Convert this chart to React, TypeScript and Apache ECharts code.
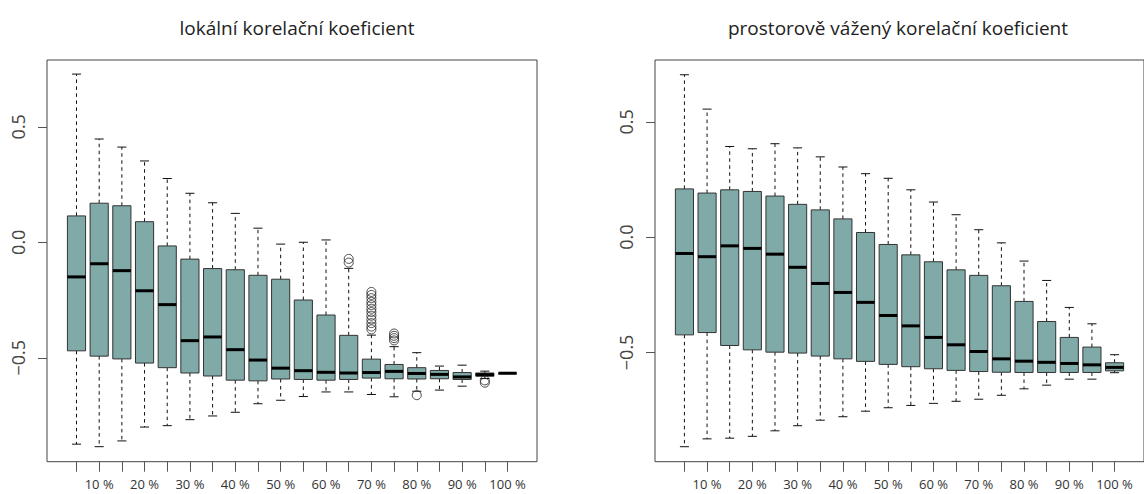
import React, { useEffect, useRef } from "react";
import * as echarts from "echarts";

// ---- data ----
const categories = ["5 %", "10 %", "15 %", "20 %", "25 %", "30 %", "35 %", "40 %", "45 %", "50 %",
  "55 %", "60 %", "65 %", "70 %", "75 %", "80 %", "85 %", "90 %", "95 %", "100 %"];
const labelledPositions = [2, 4, 6, 8, 10, 12, 14, 16, 18, 20];
const yTicks = [-0.5, 0, 0.5];

const leftTitle = "lokální korelační koeficient";
const rightTitle = "prostorově vážený korelační koeficient";

// left panel (lokální)
const leftLow = [-0.874, -0.885, -0.860, -0.800, -0.794, -0.768, -0.752, -0.736, -0.699, -0.684,
  -0.668, -0.648, -0.648, -0.659, -0.669, -0.645, -0.640, -0.623, -0.590, -0.567];
const leftQ1 = [-0.470, -0.493, -0.505, -0.523, -0.543, -0.566, -0.579, -0.597, -0.600, -0.592,
  -0.594, -0.597, -0.594, -0.588, -0.591, -0.592, -0.591, -0.594, -0.580, -0.567];
const leftMedian = [-0.150, -0.093, -0.123, -0.210, -0.270, -0.426, -0.410, -0.465, -0.510, -0.545,
  -0.556, -0.563, -0.566, -0.564, -0.559, -0.568, -0.572, -0.583, -0.573, -0.567];
const leftQ3 = [0.114, 0.169, 0.158, 0.089, -0.016, -0.073, -0.114, -0.119, -0.143, -0.160,
  -0.250, -0.315, -0.403, -0.506, -0.529, -0.543, -0.555, -0.564, -0.566, -0.567];
const leftHigh = [0.728, 0.447, 0.412, 0.352, 0.276, 0.212, 0.171, 0.125, 0.061, -0.008,
  0.000, 0.010, -0.113, -0.402, -0.452, -0.478, -0.536, -0.532, -0.558, -0.567];
const leftOutliers: [number, number][] = [
  [13, -0.072], [13, -0.088],
  [14, -0.215], [14, -0.228], [14, -0.242], [14, -0.258], [14, -0.272], [14, -0.288],
  [14, -0.302], [14, -0.318], [14, -0.334], [14, -0.350], [14, -0.365], [14, -0.377],
  [15, -0.395], [15, -0.405], [15, -0.415], [15, -0.425],
  [16, -0.662],
  [19, -0.598], [19, -0.608],
];

// right panel (prostorově vážený)
const rightLow = [-0.909, -0.875, -0.872, -0.864, -0.840, -0.818, -0.794, -0.779, -0.755, -0.740,
  -0.730, -0.721, -0.712, -0.703, -0.686, -0.658, -0.642, -0.616, -0.616, -0.588];
const rightQ1 = [-0.424, -0.414, -0.470, -0.489, -0.499, -0.503, -0.516, -0.528, -0.539, -0.552,
  -0.562, -0.571, -0.578, -0.583, -0.586, -0.587, -0.587, -0.587, -0.587, -0.580];
const rightMedian = [-0.071, -0.085, -0.038, -0.049, -0.074, -0.131, -0.201, -0.240, -0.283, -0.340,
  -0.385, -0.435, -0.467, -0.496, -0.528, -0.538, -0.543, -0.548, -0.554, -0.565];
const rightQ3 = [0.209, 0.191, 0.205, 0.198, 0.178, 0.142, 0.118, 0.079, 0.020, -0.032,
  -0.077, -0.107, -0.142, -0.166, -0.211, -0.279, -0.366, -0.435, -0.477, -0.545];
const rightHigh = [0.704, 0.555, 0.393, 0.383, 0.405, 0.387, 0.348, 0.304, 0.275, 0.255,
  0.205, 0.152, 0.097, 0.032, -0.025, -0.104, -0.188, -0.305, -0.376, -0.510];

const BOX_FILL = "#7faaa8";
const FONT = "'Open Sans', 'DejaVu Sans', sans-serif";

function rows(lo: number[], q1: number[], med: number[], q3: number[], hi: number[]) {
  return lo.map((_, i) => [i + 1, lo[i], q1[i], med[i], q3[i], hi[i]]);
}

function renderBox(_params: any, api: any) {
  const x = api.value(0);
  const pLo = api.coord([x, api.value(1)]);
  const yQ1 = api.coord([x, api.value(2)])[1];
  const yMed = api.coord([x, api.value(3)])[1];
  const yQ3 = api.coord([x, api.value(4)])[1];
  const yHi = api.coord([x, api.value(5)])[1];
  const cx = pLo[0];
  const yLo = pLo[1];
  const hw = api.size([0.4, 0])[0];
  const cw = api.size([0.2, 0])[0];
  const dash = { stroke: "#111", lineWidth: 1, lineDash: [3.5, 3.5] };
  const solid = { stroke: "#111", lineWidth: 1 };
  return {
    type: "group",
    children: [
      { type: "line", shape: { x1: cx, y1: yQ3, x2: cx, y2: yHi }, style: dash },
      { type: "line", shape: { x1: cx, y1: yQ1, x2: cx, y2: yLo }, style: dash },
      { type: "line", shape: { x1: cx - cw, y1: yHi, x2: cx + cw, y2: yHi }, style: solid },
      { type: "line", shape: { x1: cx - cw, y1: yLo, x2: cx + cw, y2: yLo }, style: solid },
      {
        type: "rect",
        shape: { x: cx - hw, y: yQ3, width: 2 * hw, height: Math.max(yQ1 - yQ3, 0.5) },
        style: { fill: BOX_FILL, stroke: "#333", lineWidth: 1 },
      },
      { type: "line", shape: { x1: cx - hw, y1: yMed, x2: cx + hw, y2: yMed }, style: { stroke: "#000", lineWidth: 3 } },
    ],
  };
}

function xAxisDef(gridIndex: number) {
  return {
    type: "value",
    gridIndex,
    position: "bottom",
    min: -0.3,
    max: 21.3,
    splitLine: { show: false },
    axisLine: { show: false, onZero: false },
    axisTick: {
      show: true,
      customValues: categories.map((_, i) => i + 1),
      length: 10,
      inside: false,
      lineStyle: { color: "#555", width: 1 },
    },
    axisLabel: {
      show: true,
      customValues: labelledPositions,
      formatter: (v: number) => categories[Math.round(v) - 1] ?? "",
      fontFamily: FONT,
      fontSize: 13,
      color: "#333",
      margin: 16,
    },
  };
}

function yAxisDef(gridIndex: number, min: number, max: number) {
  return {
    type: "value",
    gridIndex,
    min,
    max,
    splitLine: { show: false },
    axisLine: { show: false, onZero: false },
    axisTick: {
      show: true,
      customValues: yTicks,
      length: 9,
      inside: false,
      lineStyle: { color: "#555", width: 1 },
    },
    axisLabel: {
      show: true,
      customValues: yTicks,
      rotate: 90,
      formatter: (v: number) => (v < 0 ? "\u2212" + Math.abs(v).toFixed(1) : v.toFixed(1)),
      fontFamily: FONT,
      fontSize: 18,
      color: "#444",
      margin: 20,
    },
  };
}

export default function App() {
  const ref = useRef<HTMLDivElement>(null);
  useEffect(() => {
    if (!ref.current) return;
    const chart = echarts.init(ref.current, undefined, { renderer: "svg" });
    const outlierStyle = {
      color: "rgba(0,0,0,0)",
      borderColor: "#222",
      borderWidth: 1,
    };
    chart.setOption({
      animation: false,
      backgroundColor: "#ffffff",
      title: [
        {
          text: leftTitle,
          left: 292,
          top: 13,
          textAlign: "center",
          textStyle: { fontFamily: FONT, fontSize: 19, fontWeight: "normal", color: "#222" },
        },
        {
          text: rightTitle,
          left: 893,
          top: 13,
          textAlign: "center",
          textStyle: { fontFamily: FONT, fontSize: 19, fontWeight: "normal", color: "#222" },
        },
      ],
      grid: [
        { left: 47, top: 60, width: 490, height: 401.7, show: true, borderColor: "#444", borderWidth: 1, backgroundColor: "transparent" },
        { left: 655, top: 60, width: 490.2, height: 401.7, show: true, borderColor: "#444", borderWidth: 1, backgroundColor: "transparent" },
      ],
      xAxis: [xAxisDef(0), xAxisDef(1)],
      yAxis: [yAxisDef(0, -0.95, 0.789), yAxisDef(1, -0.974, 0.768)],
      series: [
        {
          type: "custom",
          xAxisIndex: 0,
          yAxisIndex: 0,
          renderItem: renderBox,
          encode: { x: 0, y: [1, 2, 3, 4, 5] },
          data: rows(leftLow, leftQ1, leftMedian, leftQ3, leftHigh),
          clip: false,
        },
        {
          type: "scatter",
          xAxisIndex: 0,
          yAxisIndex: 0,
          symbol: "circle",
          symbolSize: 9,
          itemStyle: outlierStyle,
          data: leftOutliers,
          z: 5,
        },
        {
          type: "custom",
          xAxisIndex: 1,
          yAxisIndex: 1,
          renderItem: renderBox,
          encode: { x: 0, y: [1, 2, 3, 4, 5] },
          data: rows(rightLow, rightQ1, rightMedian, rightQ3, rightHigh),
          clip: false,
        },
      ],
    });
    return () => chart.dispose();
  }, []);
  return (
    <div
      ref={ref}
      style={{ position: "fixed", left: 0, top: 0, width: 1144, height: 494, background: "#fff" }}
    />
  );
}
